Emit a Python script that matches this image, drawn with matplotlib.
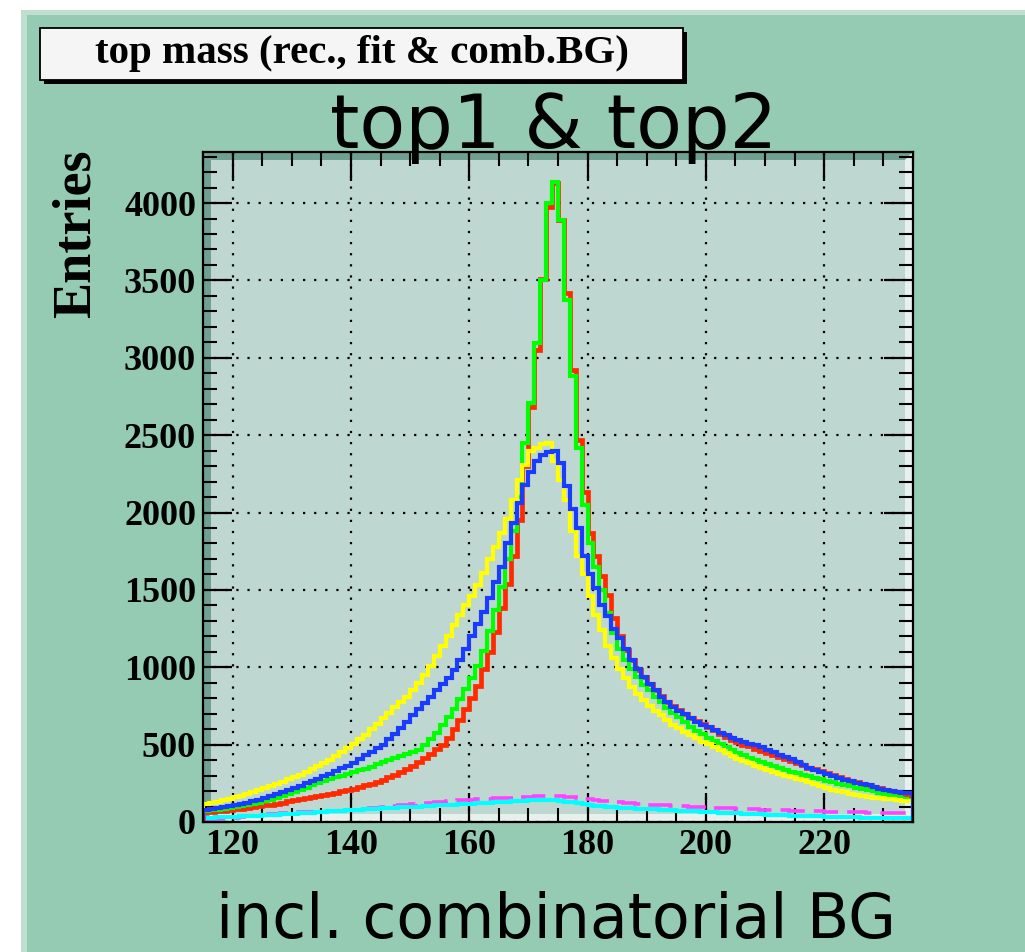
import numpy as np
import matplotlib
matplotlib.use("Agg")
import matplotlib.pyplot as plt
from matplotlib.patches import Rectangle, Polygon
from matplotlib.ticker import MultipleLocator

# ---------------- data (bins of 1 GeV from 115 to 235) ----------------
x_lo, x_hi = 115, 235
bin_edges = np.arange(x_lo, x_hi + 1)

red = [62, 66, 70, 73, 77, 82, 86, 91, 96, 101,
       107, 113, 119, 126, 133, 140, 147, 154, 161, 168,
       175, 183, 190, 198, 206, 215, 225, 236, 248, 260,
       273, 288, 304, 322, 342, 365, 390, 415, 442, 470,
       500, 545, 600, 660, 730, 800, 880, 990, 1100, 1230,
       1380, 1540, 1720, 1950, 2300, 2680, 3050, 3510, 3975, 4130,
       3890, 3420, 2920, 2470, 2130, 1870, 1720, 1590, 1470, 1320,
       1200, 1110, 1050, 985, 935, 890, 850, 812, 778, 750,
       725, 700, 675, 652, 632, 612, 592, 570, 552, 532,
       515, 500, 488, 474, 460, 446, 432, 418, 404, 392,
       380, 366, 352, 340, 328, 316, 304, 292, 280, 268,
       258, 248, 238, 228, 218, 208, 198, 188, 178, 170]

green = [72, 76, 80, 86, 91, 97, 104, 110, 118, 126,
         135, 144, 155, 166, 180, 195, 210, 222, 236, 250,
         263, 276, 289, 300, 310, 320, 333, 345, 357, 372,
         388, 400, 412, 425, 438, 452, 468, 500, 538, 578,
         625, 676, 728, 792, 858, 930, 1010, 1108, 1232, 1368,
         1520, 1700, 1880, 2100, 2450, 2710, 3095, 3500, 4000, 4135,
         3890, 3375, 2880, 2420, 2050, 1800, 1645, 1500, 1350, 1220,
         1120, 1050, 990, 940, 888, 852, 808, 776, 738, 706,
         676, 644, 617, 588, 566, 545, 524, 506, 484, 466,
         448, 433, 416, 403, 388, 375, 363, 349, 339, 326,
         316, 304, 296, 285, 278, 268, 259, 248, 239, 231,
         222, 215, 206, 199, 189, 182, 171, 163, 151, 142]

blue = [80, 85, 90, 96, 102, 110, 118, 126, 135, 145,
        155, 166, 178, 192, 205, 220, 235, 250, 265, 280,
        295, 312, 330, 348, 365, 382, 405, 430, 455, 478,
        500, 535, 570, 605, 645, 690, 730, 770, 810, 850,
        890, 930, 980, 1050, 1120, 1200, 1280, 1360, 1450, 1550,
        1650, 1800, 1930, 2060, 2180, 2260, 2330, 2370, 2390, 2400,
        2320, 2170, 2020, 1900, 1720, 1600, 1510, 1400, 1330, 1250,
        1190, 1120, 1050, 990, 940, 890, 850, 810, 775, 745,
        720, 695, 670, 648, 630, 612, 595, 578, 560, 545,
        530, 518, 506, 495, 483, 468, 452, 436, 420, 405,
        390, 370, 352, 338, 325, 310, 298, 286, 274, 262,
        252, 244, 236, 226, 215, 205, 200, 195, 190, 188]

yellow = [118, 125, 132, 140, 150, 160, 170, 180, 192, 205,
          218, 232, 246, 260, 275, 290, 305, 322, 340, 360,
          380, 400, 425, 450, 478, 505, 535, 565, 600, 635,
          670, 705, 740, 775, 810, 850, 900, 950, 1010, 1070,
          1140, 1200, 1270, 1340, 1400, 1460, 1530, 1610, 1700, 1780,
          1870, 1960, 2080, 2210, 2310, 2400, 2420, 2440, 2450, 2330,
          2210, 2080, 1880, 1720, 1600, 1460, 1340, 1240, 1140, 1060,
          990, 930, 870, 830, 790, 750, 720, 690, 660, 630,
          605, 580, 560, 540, 520, 505, 485, 465, 445, 425,
          410, 395, 380, 365, 350, 335, 322, 310, 298, 288,
          278, 270, 258, 245, 232, 220, 210, 200, 192, 184,
          176, 170, 164, 158, 154, 150, 146, 142, 138, 135]

magenta = [14, 16, 18, 21, 24, 28, 32, 36, 40, 44,
           48, 51, 54, 57, 59, 61, 63, 64, 66, 67,
           68, 70, 72, 74, 76, 78, 81, 84, 88, 92,
           96, 100, 104, 108, 112, 116, 120, 123, 126, 129,
           132, 135, 138, 140, 142, 144, 146, 148, 150, 152,
           154, 156, 158, 160, 162, 164, 166, 168, 168, 167,
           166, 163, 160, 156, 151, 146, 142, 138, 134, 130,
           127, 124, 121, 118, 116, 113, 111, 109, 107, 105,
           103, 101, 99, 97, 96, 94, 92, 91, 89, 88,
           86, 85, 83, 82, 80, 79, 78, 76, 75, 74,
           73, 72, 70, 69, 68, 67, 66, 65, 64, 63,
           62, 62, 61, 60, 60, 59, 59, 58, 58, 57]

cyan = [26, 28, 30, 31, 33, 35, 36, 38, 40, 42,
        44, 46, 48, 50, 52, 54, 57, 59, 61, 64,
        66, 68, 71, 73, 75, 77, 80, 82, 84, 86,
        88, 90, 92, 94, 96, 98, 100, 102, 104, 107,
        109, 111, 113, 115, 117, 119, 121, 123, 125, 127,
        129, 131, 133, 135, 137, 139, 140, 142, 141, 139,
        136, 132, 127, 121, 116, 111, 106, 101, 98, 95,
        93, 91, 89, 87, 85, 83, 81, 79, 77, 75,
        73, 71, 70, 68, 66, 65, 63, 61, 59, 57,
        56, 54, 53, 51, 50, 48, 47, 45, 44, 42,
        41, 40, 38, 37, 36, 35, 34, 33, 32, 31,
        30, 29, 28, 28, 27, 27, 26, 26, 25, 25]

x_major = [120, 140, 160, 180, 200, 220]
y_major = [0, 500, 1000, 1500, 2000, 2500, 3000, 3500, 4000]

title_box = "top mass (rec., fit & comb.BG)"
top_text = "top1 & top2"
bottom_text = "incl. combinatorial BG"
y_title = "Entries"

# ---------------- figure ----------------
W, H = 1025, 952
fig = plt.figure(figsize=(W / 100, H / 100), dpi=100)
fig.patch.set_facecolor("white")

def fx(p):
    return p / W

def fy(p):
    return 1 - p / H

BG = "#95CBB3"
fig.add_artist(Rectangle((fx(21), 0), fx(W - 21), (H - 10) / H,
                         transform=fig.transFigure, facecolor=BG,
                         edgecolor="none", zorder=0))
fig.add_artist(Rectangle((fx(21), fy(15)), fx(W - 21), 5 / H,
                         transform=fig.transFigure, facecolor="#BFE0D0",
                         edgecolor="none", zorder=0.5))
fig.add_artist(Rectangle((fx(21), 0), fx(6), (H - 10) / H,
                         transform=fig.transFigure, facecolor="#BFE0D0",
                         edgecolor="none", zorder=0.5))

# title box with shadow
fig.add_artist(Rectangle((fx(44), fy(84)), fx(643), 52 / H,
                         transform=fig.transFigure, facecolor="black",
                         edgecolor="none", zorder=1))
fig.add_artist(Rectangle((fx(40), fy(80)), fx(643), 52 / H,
                         transform=fig.transFigure, facecolor="#F5F5F5",
                         edgecolor="black", linewidth=1.3, zorder=2))
fig.text(fx(362), fy(63), title_box, ha="center", va="baseline",
         fontsize=29.5, fontweight="bold", family="Liberation Serif", zorder=3)

# axes
L, T, R, B = 203, 152, 913, 822
ax = fig.add_axes([fx(L), fy(B), fx(R - L), (B - T) / H])
ax.set_facecolor("#BED8D1")
ax.set_xlim(x_lo, x_hi)
ax.set_ylim(0, 4330)

# frame bevel (ROOT style)
dx, dy = 8 / (R - L), 8 / (B - T)
dark, light = "#6FA092", "#E6F0EC"
for pts, col in [
    ([(0, 0), (0, 1), (dx, 1 - dy), (dx, dy)], dark),
    ([(0, 1), (1, 1), (1 - dx, 1 - dy), (dx, 1 - dy)], dark),
    ([(1, 1), (1, 0), (1 - dx, dy), (1 - dx, 1 - dy)], light),
    ([(0, 0), (1, 0), (1 - dx, dy), (dx, dy)], light),
]:
    ax.add_patch(Polygon(pts, closed=True, transform=ax.transAxes,
                         facecolor=col, edgecolor="none", zorder=0.5))

# grid
ax.set_xticks(x_major)
ax.set_yticks(y_major)
ax.xaxis.set_minor_locator(MultipleLocator(5))
ax.yaxis.set_minor_locator(MultipleLocator(100))
ax.grid(True, which="major", color="black", linestyle=(0, (1, 4)),
        linewidth=1.6, zorder=1)
ax.set_axisbelow(True)

# histograms
ax.stairs(magenta, bin_edges, color="#FF44FF", linewidth=2.6,
          linestyle=(0, (7, 2.5)), zorder=3)
ax.stairs(cyan, bin_edges, color="#00FFFF", linewidth=3.0, zorder=3.1)
ax.stairs(red, bin_edges, color="#FF2A00", linewidth=3.4, zorder=3.2)
ax.stairs(green, bin_edges, color="#00FF00", linewidth=3.0, zorder=3.3)
ax.stairs(yellow, bin_edges, color="#FFFF00", linewidth=3.0, zorder=3.4)
ax.stairs(blue, bin_edges, color="#1A3CFF", linewidth=3.0, zorder=3.5)

# ticks
for s in ax.spines.values():
    s.set_linewidth(1.6)
    s.set_color("black")
    s.set_zorder(5)
ax.tick_params(which="major", direction="in", top=True, right=True,
               length=21, width=1.6, pad=5)
ax.tick_params(which="minor", direction="in", top=True, right=True,
               length=10, width=1.5)
ax.set_xticklabels([str(v) for v in x_major])
ax.set_yticklabels([str(v) for v in y_major])
for lab in ax.get_xticklabels() + ax.get_yticklabels():
    lab.set_fontfamily("Liberation Serif")
    lab.set_fontweight("bold")
    lab.set_fontsize(26)

fig.text(fx(77), fy(149), y_title, rotation=90, ha="center", va="top",
         fontsize=39, fontweight="bold", family="Liberation Serif")

fig.text(fx(554), fy(148), top_text, ha="center", va="baseline",
         fontsize=54, fontweight="normal", family="DejaVu Sans", zorder=10)
fig.text(fx(556), fy(938), bottom_text, ha="center", va="baseline",
         fontsize=44.5, fontweight="normal", family="DejaVu Sans", zorder=10)

fig.savefig("out.png", dpi=100, facecolor=fig.get_facecolor())
